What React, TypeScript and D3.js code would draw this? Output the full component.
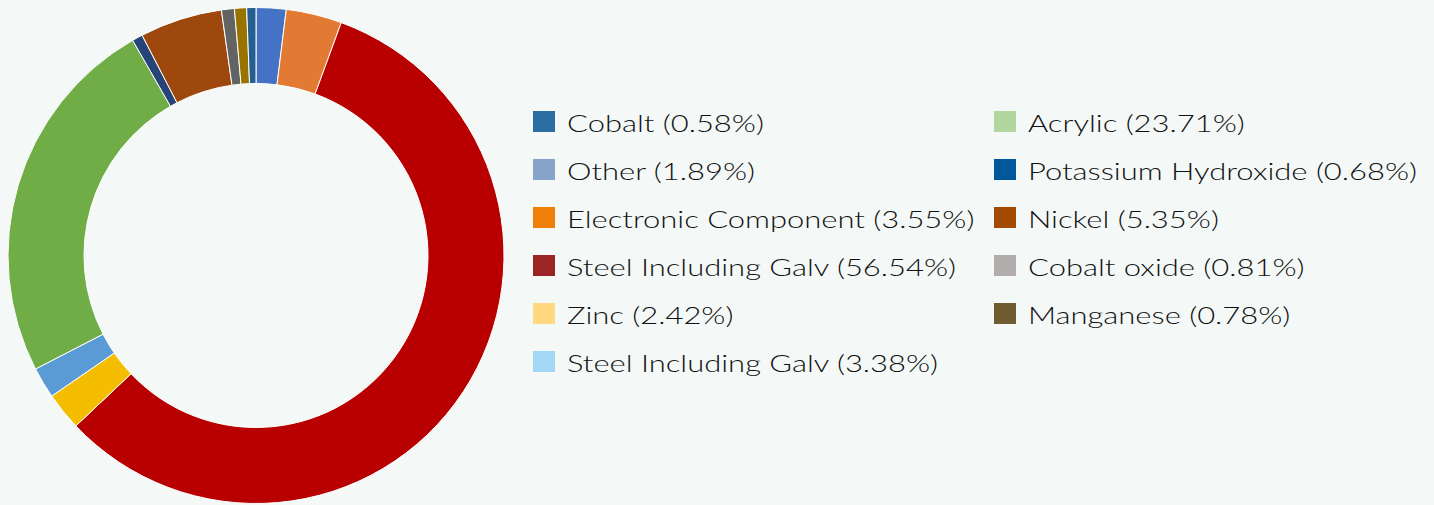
import React from "react";
import * as d3 from "d3";

// Slice order clockwise from 12 o'clock, shares
const categories = [
  "Other",
  "Electronic Component",
  "Steel Including Galv",
  "Zinc",
  "Steel Including Galv",
  "Acrylic",
  "Potassium Hydroxide",
  "Nickel",
  "Cobalt oxide",
  "Manganese",
  "Cobalt",
];
const values = [1.95, 3.64, 57.4, 2.47, 2.03, 24.3, 0.69, 5.37, 0.84, 0.79, 0.6];
const sliceColors = [
  "#4472C4", "#E27A33", "#B80000", "#F5BD00", "#5B9BD5", "#70AD47",
  "#264478", "#9E480E", "#636363", "#997300", "#255E91",
];

const legendLeft = ["Cobalt (0.58%)", "Other (1.89%)", "Electronic Component (3.55%)", "Steel Including Galv (56.54%)", "Zinc (2.42%)", "Steel Including Galv (3.38%)"];
const legendLeftColors = ["#2E6DA4", "#86A3C9", "#F07F09", "#9B2424", "#FFD97F", "#A3D9F7"];
const legendRight = ["Acrylic (23.71%)", "Potassium Hydroxide (0.68%)", "Nickel (5.35%)", "Cobalt oxide (0.81%)", "Manganese (0.78%)"];
const legendRightColors = ["#B2D6A0", "#00579A", "#A34A00", "#B3ACAC", "#705C30"];

export default function App() {
  const W = 1434, H = 505;
  const cx = 256, cy = 255.5, rOuter = 248, rInner = 172;
  const pie = d3.pie<number>().sort(null).value((d) => d);
  const arcs = pie(values);
  const arc = d3.arc<d3.PieArcDatum<number>>().innerRadius(rInner).outerRadius(rOuter);
  const font = "Lato, 'Open Sans', sans-serif";
  const rowY = (i: number) => 132 + i * 48;
  const sx = 1.29;
  return (
    <div style={{ position: "fixed", left: 0, top: 0, width: W, height: H, background: "#F4F9F7" }}>
      <svg width={W} height={H} style={{ display: "block" }}>
        <rect x={0} y={0} width={W} height={H} fill="#F4F9F7" />
        <g transform={`translate(${cx},${cy})`}>
          {arcs.map((a, i) => (
            <path key={i} d={arc(a) || ""} fill={sliceColors[i]} stroke="#ffffff" strokeWidth={1}>
              <title>{categories[i]}</title>
            </path>
          ))}
        </g>
        {legendLeft.map((t, i) => (
          <g key={"l" + i}>
            <rect x={533} y={rowY(i) - 21} width={22} height={21} fill={legendLeftColors[i]} />
            <text transform={`translate(567,${rowY(i)}) scale(${sx},1)`} fontFamily={font} fontWeight={300} fontSize={24} fill="#111111">{t}</text>
          </g>
        ))}
        {legendRight.map((t, i) => (
          <g key={"r" + i}>
            <rect x={994} y={rowY(i) - 21} width={22} height={21} fill={legendRightColors[i]} />
            <text transform={`translate(1028,${rowY(i)}) scale(${sx},1)`} fontFamily={font} fontWeight={300} fontSize={24} fill="#111111">{t}</text>
          </g>
        ))}
      </svg>
    </div>
  );
}
